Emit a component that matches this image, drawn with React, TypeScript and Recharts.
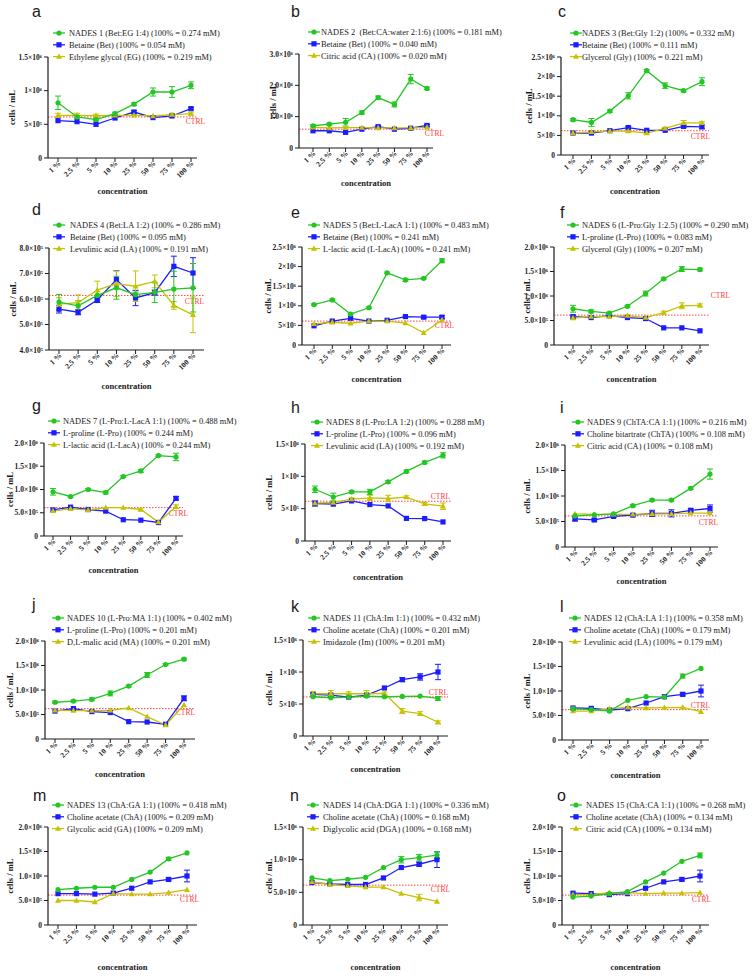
import React from 'react';
import { LineChart, Line, XAxis, YAxis, ReferenceLine, ErrorBar } from 'recharts';

// ---------- shared ----------
const categories = ['1 %', '2.5 %', '5 %', '10 %', '25 %', '50 %', '75 %', '100 %'];
const panelLetters = ['a', 'b', 'c', 'd', 'e', 'f', 'g', 'h', 'i', 'j', 'k', 'l', 'm', 'n', 'o'];

// tick sets (values in 10^6 cells/mL)
const ticksA = [0, 0.5, 1, 1.5];
const ticksALabels = ['0', '5×10⁵', '1×10⁶', '1.5×10⁶'];
const ticksB = [0, 1, 2, 3];
const ticksBLabels = ['0', '1.0×10⁶', '2.0×10⁶', '3.0×10⁶'];
const ticksC = [0, 0.5, 1, 1.5, 2, 2.5];
const ticksCLabels = ['0', '5×10⁵', '1×10⁶', '1.5×10⁶', '2×10⁶', '2.5×10⁶'];
const ticksD = [0.4, 0.5, 0.6, 0.7, 0.8];
const ticksDLabels = ['4.0×10⁵', '5.0×10⁵', '6.0×10⁵', '7.0×10⁵', '8.0×10⁵'];
const ticksF = [0, 0.5, 1, 1.5, 2];
const ticksFLabels = ['0', '5.0×10⁵', '1.0×10⁶', '1.5×10⁶', '2.0×10⁶'];
const ticksN = [0, 0.5, 1, 1.5];
const ticksNLabels = ['0', '5.0×10⁵', '1.0×10⁶', '1.5×10⁶'];

// ---------- panel a ----------
const aNames = ['NADES 1 (Bet:EG 1:4) (100% = 0.274 mM)', 'Betaine (Bet) (100% = 0.054 mM)', 'Ethylene glycol (EG) (100% = 0.219 mM)'];
const aS0 = [0.82, 0.61, 0.57, 0.66, 0.80, 0.98, 0.98, 1.08];
const aE0 = [0.10, 0.02, 0.02, 0.02, 0.02, 0.06, 0.08, 0.05];
const aS1 = [0.555, 0.54, 0.50, 0.594, 0.683, 0.60, 0.624, 0.733];
const aE1 = [0, 0, 0, 0, 0.02, 0, 0, 0.02];
const aS2 = [0.634, 0.634, 0.63, 0.634, 0.634, 0.624, 0.644, 0.66];
const aE2 = [0.03, 0.03, 0.02, 0, 0, 0, 0.02, 0.02];
const aCtrl = 0.61;

// ---------- panel b ----------
const bNames = ['NADES 2  (Bet:CA:water 2:1:6) (100% = 0.181 mM)', 'Betaine (Bet) (100% = 0.040 mM)', 'Citric acid (CA) (100% = 0.020 mM)'];
const bS0 = [0.71, 0.76, 0.82, 1.13, 1.61, 1.39, 2.20, 1.90];
const bE0 = [0.03, 0.03, 0.12, 0.05, 0.05, 0.08, 0.15, 0.04];
const bS1 = [0.55, 0.55, 0.50, 0.60, 0.68, 0.60, 0.63, 0.72];
const bE1 = [0, 0, 0, 0, 0.03, 0, 0, 0.03];
const bS2 = [0.66, 0.64, 0.65, 0.65, 0.64, 0.64, 0.64, 0.66];
const bE2 = [0, 0, 0, 0, 0, 0, 0, 0];
const bCtrl = 0.60;

// ---------- panel c ----------
const cNames = ['NADES 3 (Bet:Gly 1:2) (100% = 0.332 mM)', 'Betaine (Bet) (100% = 0.111 mM)', 'Glycerol (Gly) (100% = 0.221 mM)'];
const cS0 = [0.90, 0.83, 1.12, 1.51, 2.15, 1.77, 1.64, 1.87];
const cE0 = [0.03, 0.10, 0.03, 0.08, 0.03, 0.07, 0.03, 0.10];
const cS1 = [0.56, 0.56, 0.62, 0.70, 0.63, 0.63, 0.73, 0.72];
const cE1 = [0, 0, 0, 0.03, 0, 0, 0.03, 0.05];
const cS2 = [0.56, 0.59, 0.61, 0.61, 0.56, 0.68, 0.82, 0.82];
const cE2 = [0.03, 0.03, 0, 0.03, 0.03, 0.03, 0.06, 0.03];
const cCtrl = 0.62;

// ---------- panel d ----------
const dNames = ['NADES 4 (Bet:LA 1:2) (100% = 0.286 mM)', 'Betaine (Bet) (100% = 0.095 mM)', 'Levulinic acid (LA) (100% = 0.191 mM)'];
const dS0 = [0.588, 0.573, 0.614, 0.644, 0.617, 0.626, 0.639, 0.644];
const dE0 = [0.030, 0.020, 0.015, 0.045, 0.010, 0.040, 0.070, 0.095];
const dS1 = [0.560, 0.548, 0.596, 0.676, 0.604, 0.625, 0.728, 0.702];
const dE1 = [0.015, 0.010, 0.010, 0.035, 0.030, 0.010, 0.040, 0.060];
const dS2 = [0.580, 0.586, 0.635, 0.660, 0.650, 0.669, 0.575, 0.538];
const dE2 = [0.025, 0.030, 0.035, 0.050, 0.060, 0.025, 0.015, 0.070];
const dCtrl = 0.614;

// ---------- panel e ----------
const eNames = ['NADES 5 (Bet:L-LacA 1:1) (100% = 0.483 mM)', 'Betaine (Bet) (100% = 0.241 mM)', 'L-lactic acid (L-LacA) (100% = 0.241 mM)'];
const eS0 = [1.03, 1.15, 0.79, 0.95, 1.84, 1.66, 1.70, 2.15];
const eE0 = [0.02, 0.02, 0.02, 0.02, 0.02, 0.04, 0.02, 0.05];
const eS1 = [0.49, 0.61, 0.68, 0.61, 0.63, 0.725, 0.71, 0.71];
const eE1 = [0, 0, 0, 0, 0, 0, 0.03, 0.04];
const eS2 = [0.54, 0.58, 0.555, 0.61, 0.61, 0.56, 0.31, 0.64];
const eE2 = [0, 0, 0, 0, 0, 0, 0, 0];
const eCtrl = 0.61;

// ---------- panel f ----------
const fNames = ['NADES 6 (L-Pro:Gly 1:2.5) (100% = 0.290 mM)', 'L-proline (L-Pro) (100% = 0.083 mM)', 'Glycerol (Gly) (100% = 0.207 mM)'];
const fS0 = [0.74, 0.685, 0.65, 0.79, 1.05, 1.35, 1.55, 1.54];
const fE0 = [0.07, 0.03, 0.02, 0.02, 0.05, 0.02, 0.05, 0.03];
const fS1 = [0.58, 0.56, 0.60, 0.56, 0.54, 0.35, 0.35, 0.29];
const fE1 = [0.03, 0, 0, 0, 0, 0, 0, 0];
const fS2 = [0.55, 0.58, 0.58, 0.60, 0.56, 0.66, 0.80, 0.81];
const fE2 = [0.03, 0, 0, 0.02, 0, 0.03, 0.06, 0.03];
const fCtrl = 0.61;

// ---------- panel g ----------
const gNames = ['NADES 7 (L-Pro:L-LacA 1:1) (100% = 0.488 mM)', 'L-proline (L-Pro) (100% = 0.244 mM)', 'L-lactic acid (L-LacA) (100% = 0.244 mM)'];
const gS0 = [0.95, 0.85, 1.00, 0.935, 1.28, 1.40, 1.73, 1.70];
const gE0 = [0.07, 0.02, 0.02, 0.03, 0.02, 0.03, 0.02, 0.08];
const gS1 = [0.56, 0.62, 0.57, 0.535, 0.35, 0.34, 0.29, 0.81];
const gE1 = [0, 0, 0, 0, 0, 0, 0, 0.04];
const gS2 = [0.54, 0.585, 0.56, 0.61, 0.61, 0.57, 0.30, 0.63];
const gE2 = [0, 0, 0, 0, 0, 0.03, 0, 0.04];
const gCtrl = 0.61;

// ---------- panel h ----------
const hNames = ['NADES 8 (L-Pro:LA 1:2) (100% = 0.288 mM)', 'L-proline (L-Pro) (100% = 0.096 mM)', 'Levulinic acid (LA) (100% = 0.192 mM)'];
const hS0 = [0.80, 0.68, 0.76, 0.76, 0.915, 1.076, 1.215, 1.325];
const hE0 = [0.05, 0.06, 0.02, 0.04, 0.02, 0.02, 0.02, 0.04];
const hS1 = [0.58, 0.57, 0.62, 0.564, 0.543, 0.35, 0.347, 0.295];
const hE1 = [0.04, 0, 0, 0, 0, 0, 0, 0];
const hS2 = [0.585, 0.595, 0.647, 0.667, 0.657, 0.678, 0.574, 0.538];
const hE2 = [0.02, 0.02, 0.02, 0.04, 0.05, 0.02, 0.02, 0.05];
const hCtrl = 0.615;

// ---------- panel i ----------
const iNames = ['NADES 9 (ChTA:CA 1:1) (100% = 0.216 mM)', 'Choline bitartrate (ChTA) (100% = 0.108 mM)', 'Citric acid (CA) (100% = 0.108 mM)'];
const iS0 = [0.61, 0.63, 0.65, 0.81, 0.92, 0.92, 1.15, 1.43];
const iE0 = [0, 0, 0, 0.02, 0.02, 0.02, 0.02, 0.10];
const iS1 = [0.55, 0.53, 0.60, 0.625, 0.66, 0.66, 0.72, 0.755];
const iE1 = [0.04, 0.02, 0.02, 0.02, 0.06, 0.07, 0.03, 0.07];
const iS2 = [0.65, 0.64, 0.64, 0.64, 0.65, 0.65, 0.665, 0.665];
const iE2 = [0, 0, 0, 0, 0, 0, 0, 0];
const iCtrl = 0.61;

// ---------- panel j ----------
const jNames = ['NADES 10 (L-Pro:MA 1:1) (100% = 0.402 mM)', 'L-proline (L-Pro) (100% = 0.201 mM)', 'D,L-malic acid (MA) (100% = 0.201 mM)'];
const jS0 = [0.75, 0.775, 0.81, 0.93, 1.08, 1.306, 1.52, 1.63];
const jE0 = [0.02, 0.02, 0.03, 0.05, 0.02, 0.05, 0.02, 0.02];
const jS1 = [0.57, 0.62, 0.56, 0.54, 0.354, 0.347, 0.30, 0.83];
const jE1 = [0, 0, 0, 0, 0, 0, 0, 0.05];
const jS2 = [0.585, 0.58, 0.58, 0.585, 0.633, 0.456, 0.285, 0.694];
const jE2 = [0, 0, 0, 0, 0, 0, 0, 0];
const jCtrl = 0.62;

// ---------- panel k ----------
const kNames = ['NADES 11 (ChA:Im 1:1) (100% = 0.432 mM)', 'Choline acetate (ChA) (100% = 0.201 mM)', 'Imidazole (Im) (100% = 0.201 mM)'];
const kS0 = [0.613, 0.598, 0.608, 0.624, 0.613, 0.619, 0.624, 0.587];
const kE0 = [0, 0, 0, 0, 0, 0, 0, 0.03];
const kS1 = [0.65, 0.64, 0.608, 0.64, 0.75, 0.88, 0.923, 1.0];
const kE1 = [0.02, 0, 0, 0, 0, 0.03, 0.05, 0.12];
const kS2 = [0.66, 0.66, 0.66, 0.66, 0.666, 0.39, 0.35, 0.215];
const kE2 = [0.03, 0.05, 0.03, 0.05, 0.02, 0.04, 0.03, 0.02];
const kCtrl = 0.61;

// ---------- panel l ----------
const lNames = ['NADES 12 (ChA:LA 1:1) (100% = 0.358 mM)', 'Choline acetate (ChA) (100% = 0.179 mM)', 'Levulinic acid (LA) (100% = 0.179 mM)'];
const lS0 = [0.64, 0.62, 0.59, 0.81, 0.884, 0.877, 1.306, 1.46];
const lE0 = [0, 0, 0, 0, 0, 0, 0.04, 0];
const lS1 = [0.653, 0.646, 0.612, 0.64, 0.755, 0.884, 0.932, 1.0];
const lE1 = [0, 0, 0, 0, 0, 0, 0.03, 0.12];
const lS2 = [0.59, 0.59, 0.64, 0.667, 0.653, 0.66, 0.667, 0.578];
const lE2 = [0, 0, 0, 0, 0, 0, 0, 0];
const lCtrl = 0.62;

// ---------- panel m ----------
const mNames = ['NADES 13 (ChA:GA 1:1) (100% = 0.418 mM)', 'Choline acetate (ChA) (100% = 0.209 mM)', 'Glycolic acid (GA) (100% = 0.209 mM)'];
const mS0 = [0.72, 0.75, 0.77, 0.77, 0.93, 1.08, 1.35, 1.47];
const mE0 = [0, 0, 0, 0, 0, 0, 0.03, 0];
const mS1 = [0.64, 0.64, 0.63, 0.65, 0.75, 0.88, 0.93, 1.0];
const mE1 = [0, 0, 0, 0, 0, 0, 0.03, 0.12];
const mS2 = [0.50, 0.50, 0.47, 0.64, 0.63, 0.63, 0.66, 0.72];
const mE2 = [0, 0, 0, 0, 0, 0, 0, 0];
const mCtrl = 0.61;

// ---------- panel n ----------
const nNames = ['NADES 14 (ChA:DGA 1:1) (100% = 0.336 mM)', 'Choline acetate (ChA) (100% = 0.168 mM)', 'Diglycolic acid (DGA) (100% = 0.168 mM)'];
const nS0 = [0.72, 0.68, 0.70, 0.73, 0.88, 1.0, 1.03, 1.07];
const nE0 = [0, 0, 0, 0, 0, 0.05, 0.05, 0.05];
const nS1 = [0.65, 0.63, 0.62, 0.62, 0.72, 0.88, 0.93, 1.0];
const nE1 = [0, 0, 0, 0, 0, 0, 0.03, 0.12];
const nS2 = [0.66, 0.62, 0.60, 0.58, 0.58, 0.48, 0.42, 0.36];
const nE2 = [0, 0, 0, 0, 0, 0, 0.05, 0];
const nCtrl = 0.61;

// ---------- panel o ----------
const oNames = ['NADES 15 (ChA:CA 1:1) (100% = 0.268 mM)', 'Choline acetate (ChA) (100% = 0.134 mM)', 'Citric acid (CA) (100% = 0.134 mM)'];
const oS0 = [0.57, 0.59, 0.64, 0.68, 0.88, 1.06, 1.30, 1.42];
const oE0 = [0, 0, 0, 0, 0, 0, 0, 0.05];
const oS1 = [0.65, 0.64, 0.62, 0.64, 0.75, 0.88, 0.93, 1.0];
const oE1 = [0, 0, 0, 0, 0, 0, 0.03, 0.12];
const oS2 = [0.62, 0.62, 0.66, 0.66, 0.64, 0.65, 0.65, 0.66];
const oE2 = [0, 0, 0, 0, 0, 0, 0, 0];
const oCtrl = 0.61;

// ---------- styling / layout ----------
const GREEN = '#23c623';
const BLUE = '#1c1cff';
const YELLOW = '#c6c200';
const RED = '#ff4040';
const INK = '#1a1a1a';
const SERIF = "'Liberation Serif','Times New Roman',serif";
const SANS = "'Liberation Sans',Arial,sans-serif";
const PW = 251;
const PH = 195;

type Layout = {
  axisX: number; top: number; bottom: number; first: number; last: number; end: number;
  leg0: number; mk: number; tx: number; lx: number; ly: number; ylx: number; xly: number; cdx: number; cdy: number;
};
const L = (axisX: number, top: number, bottom: number, first: number, last: number, end: number,
  leg0: number, mk: number, tx: number, lx: number, ly: number, ylx: number, xly: number, cdx: number, cdy: number): Layout =>
  ({ axisX, top, bottom, first, last, end, leg0, mk, tx, lx, ly, ylx, xly, cdx, cdy });

const layouts: Layout[] = [
  L(48, 57, 158, 58, 191, 197, 33, 53, 69, 32, 17, 12, 193, 8, 7),
  L(48, 54, 148, 62, 176, 182, 32, 57, 70, 40, 17, 22, 183, 11, 7),
  L(59, 57, 155, 71, 200, 207, 33, 68, 80, 56, 17, 27, 191, 1, 8),
  L(49, 53, 155, 59, 193, 204, 30, 53, 70, 32, 20, 13, 192, 0, 9),
  L(51, 52, 150, 63, 191, 200, 30, 57, 72, 40, 23, 17, 184, 3, 7),
  L(52, 52, 150, 71, 198, 207, 30, 65, 80, 58, 23, 25, 184, 21, -17),
  L(44, 53, 146, 53, 176, 183, 31, 48, 63, 32, 21, 10, 180, 5, 8),
  L(54, 54, 151, 64, 192, 200, 32, 60, 75, 40, 23, 18, 187, -1, -2),
  L(63, 55, 157, 73, 208, 216, 32, 70, 85, 58, 23, 25, 196, 0, 9),
  L(45, 56, 154, 55, 184, 195, 33, 52, 67, 32, 25, 10, 189, 0, 6),
  L(52, 55, 151, 62, 187, 197, 33, 57, 72, 40, 27, 18, 184, 0, -2),
  L(60, 57, 155, 71, 199, 207, 33, 67, 82, 58, 27, 25, 190, 1, -2),
  L(48, 47, 145, 58, 187, 197, 25, 52, 67, 33, 21, 10, 187, 2, 7),
  L(52, 47, 145, 61, 186, 197, 25, 56, 72, 39, 21, 18, 187, 2, 7),
  L(60, 47, 145, 71, 198, 207, 25, 68, 84, 55, 21, 25, 187, 2, 7),
];

type Panel = {
  names: string[]; s: number[][]; e: number[][]; ctrl: number; ticks: number[]; tickLabels: string[];
};
const panels: Panel[] = [
  { names: aNames, s: [aS0, aS1, aS2], e: [aE0, aE1, aE2], ctrl: aCtrl, ticks: ticksA, tickLabels: ticksALabels },
  { names: bNames, s: [bS0, bS1, bS2], e: [bE0, bE1, bE2], ctrl: bCtrl, ticks: ticksB, tickLabels: ticksBLabels },
  { names: cNames, s: [cS0, cS1, cS2], e: [cE0, cE1, cE2], ctrl: cCtrl, ticks: ticksC, tickLabels: ticksCLabels },
  { names: dNames, s: [dS0, dS1, dS2], e: [dE0, dE1, dE2], ctrl: dCtrl, ticks: ticksD, tickLabels: ticksDLabels },
  { names: eNames, s: [eS0, eS1, eS2], e: [eE0, eE1, eE2], ctrl: eCtrl, ticks: ticksC, tickLabels: ticksCLabels },
  { names: fNames, s: [fS0, fS1, fS2], e: [fE0, fE1, fE2], ctrl: fCtrl, ticks: ticksF, tickLabels: ticksFLabels },
  { names: gNames, s: [gS0, gS1, gS2], e: [gE0, gE1, gE2], ctrl: gCtrl, ticks: ticksF, tickLabels: ticksFLabels },
  { names: hNames, s: [hS0, hS1, hS2], e: [hE0, hE1, hE2], ctrl: hCtrl, ticks: ticksA, tickLabels: ticksALabels },
  { names: iNames, s: [iS0, iS1, iS2], e: [iE0, iE1, iE2], ctrl: iCtrl, ticks: ticksF, tickLabels: ticksFLabels },
  { names: jNames, s: [jS0, jS1, jS2], e: [jE0, jE1, jE2], ctrl: jCtrl, ticks: ticksF, tickLabels: ticksFLabels },
  { names: kNames, s: [kS0, kS1, kS2], e: [kE0, kE1, kE2], ctrl: kCtrl, ticks: ticksA, tickLabels: ticksALabels },
  { names: lNames, s: [lS0, lS1, lS2], e: [lE0, lE1, lE2], ctrl: lCtrl, ticks: ticksF, tickLabels: ticksFLabels },
  { names: mNames, s: [mS0, mS1, mS2], e: [mE0, mE1, mE2], ctrl: mCtrl, ticks: ticksF, tickLabels: ticksFLabels },
  { names: nNames, s: [nS0, nS1, nS2], e: [nE0, nE1, nE2], ctrl: nCtrl, ticks: ticksN, tickLabels: ticksNLabels },
  { names: oNames, s: [oS0, oS1, oS2], e: [oE0, oE1, oE2], ctrl: oCtrl, ticks: ticksF, tickLabels: ticksFLabels },
];

const COLORS = [GREEN, BLUE, YELLOW];

function Marker({ kind, cx, cy }: { kind: number; cx: number; cy: number }) {
  if (kind === 0) return <circle cx={cx} cy={cy} r={2.6} fill={GREEN} />;
  if (kind === 1) return <rect x={cx - 2.6} y={cy - 2.6} width={5.2} height={5.2} fill={BLUE} />;
  return <polygon points={`${cx},${cy - 3.2} ${cx + 3},${cy + 2.2} ${cx - 3},${cy + 2.2}`} fill={YELLOW} />;
}

const makeDot = (kind: number) => (props: any) => {
  const { cx, cy, index } = props;
  if (cx == null || cy == null) return <g key={`d${kind}-${index}`} />;
  return <g key={`d${kind}-${index}`}><Marker kind={kind} cx={cx} cy={cy} /></g>;
};

const XTick = (props: any) => {
  const { x, y, payload } = props;
  const ax = x + 3;
  const ay = y + 1;
  return (
    <text x={ax} y={ay} transform={`rotate(-45, ${ax}, ${ay})`} textAnchor="end" fontSize={7.5}
      fontWeight="bold" fontFamily={SERIF} fill={INK}>{payload.value}</text>
  );
};

const makeYTick = (ticks: number[], labels: string[]) => (props: any) => {
  const { x, y, payload } = props;
  const idx = ticks.findIndex((t) => Math.abs(t - payload.value) < 1e-9);
  return (
    <text x={x - 1} y={y + 2.6} textAnchor="end" fontSize={7.5} fontWeight="bold" fontFamily={SERIF} fill={INK}>
      {idx >= 0 ? labels[idx] : ''}
    </text>
  );
};

function PanelChart({ p, lay, letter }: { p: Panel; lay: Layout; letter: string }) {
  const data = categories.map((c, i) => ({
    cat: c,
    s0: p.s[0][i], s1: p.s[1][i], s2: p.s[2][i],
    e0: p.e[0][i], e1: p.e[1][i], e2: p.e[2][i],
  }));
  const domain: [number, number] = [p.ticks[0], p.ticks[p.ticks.length - 1]];
  const ctrlLabel = (props: any) => {
    const vb = props.viewBox || {};
    return (
      <text x={(vb.x || 0) + (vb.width || 0) + lay.cdx} y={(vb.y || 0) + lay.cdy} textAnchor="end"
        fontSize={7.5} fontFamily={SERIF} fill={RED}>CTRL</text>
    );
  };
  const order = [1, 2, 0];
  return (
    <div style={{ position: 'relative', width: PW, height: PH }}>
      <LineChart width={PW} height={PH} data={data} style={{ overflow: 'visible' }}
        margin={{ top: lay.top, right: PW - lay.end, left: 0, bottom: 0 }}>
        <XAxis dataKey="cat" type="category" height={PH - lay.bottom} interval={0}
          padding={{ left: lay.first - lay.axisX, right: lay.end - lay.last }}
          tick={<XTick />} tickSize={4} tickMargin={1}
          axisLine={{ stroke: INK, strokeWidth: 1.2 }} tickLine={{ stroke: INK, strokeWidth: 1 }} />
        <YAxis type="number" width={lay.axisX} domain={domain} ticks={p.ticks} allowDataOverflow interval={0}
          tick={makeYTick(p.ticks, p.tickLabels)} tickSize={4} tickMargin={1}
          axisLine={{ stroke: INK, strokeWidth: 1.2 }} tickLine={{ stroke: INK, strokeWidth: 1 }} />
        <ReferenceLine y={p.ctrl} stroke={RED} strokeWidth={1} strokeDasharray="1.5 1.5" label={ctrlLabel} />
        {order.map((k) => (
          <Line key={k} dataKey={`s${k}`} stroke={COLORS[k]} strokeWidth={1.3} isAnimationActive={false}
            dot={makeDot(k)} activeDot={false}>
            <ErrorBar dataKey={`e${k}`} width={3} stroke={COLORS[k]} strokeWidth={1} direction="y" />
          </Line>
        ))}
      </LineChart>
      <svg width={PW} height={PH} style={{ position: 'absolute', left: 0, top: 0, pointerEvents: 'none', overflow: 'visible' }}>
        <text x={lay.lx} y={lay.ly} fontSize={16} fontFamily={SANS} fill={INK}>{letter}</text>
        {p.names.map((nm, i) => {
          const y = lay.leg0 + i * 11.8;
          return (
            <g key={i}>
              <line x1={lay.mk} x2={lay.mk + 12} y1={y} y2={y} stroke={COLORS[i]} strokeWidth={1.3} />
              <Marker kind={i} cx={lay.mk + 6} cy={y} />
              <text x={lay.tx} y={y + 2.9} fontSize={8.4} fontFamily={SERIF} fill={INK} style={{ whiteSpace: 'pre' }}>{nm}</text>
            </g>
          );
        })}
        <text x={lay.ylx} y={(lay.top + lay.bottom) / 2} transform={`rotate(-90, ${lay.ylx}, ${(lay.top + lay.bottom) / 2})`}
          textAnchor="middle" dominantBaseline="central" fontSize={8.5} fontWeight="bold" fontFamily={SERIF} fill={INK}>cells / mL</text>
        <text x={(lay.axisX + lay.end) / 2} y={Math.min(lay.xly, 191)} textAnchor="middle" dominantBaseline="central"
          fontSize={8.5} fontWeight="bold" fontFamily={SERIF} fill={INK}>concentration</text>
      </svg>
    </div>
  );
}

export default function App() {
  return (
    <div style={{ position: 'absolute', left: 0, top: 0, width: 754, height: 978, background: '#fff', overflow: 'hidden' }}>
      {panels.map((p, idx) => (
        <div key={idx} style={{ position: 'absolute', left: (idx % 3) * PW, top: Math.floor(idx / 3) * PH, width: PW, height: PH }}>
          <PanelChart p={p} lay={layouts[idx]} letter={panelLetters[idx]} />
        </div>
      ))}
    </div>
  );
}
